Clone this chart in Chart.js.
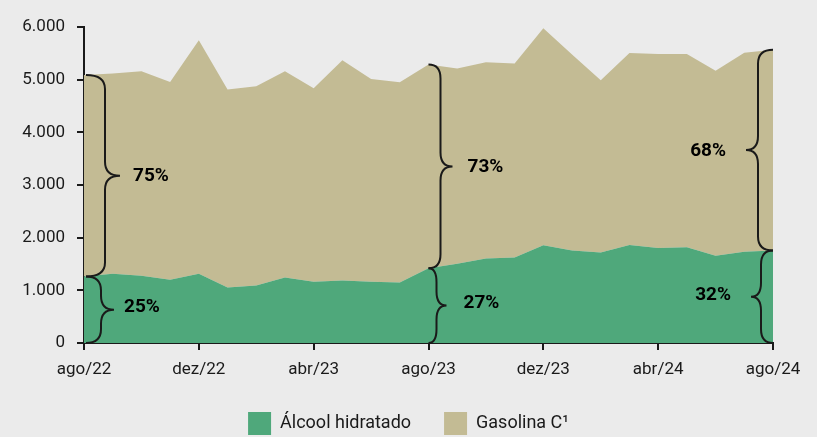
<!DOCTYPE html>
<html>
<head>
<meta charset="utf-8">
<script src="https://cdn.jsdelivr.net/npm/chart.js@4.4.1/dist/chart.umd.min.js"></script>
<style>
  html, body { margin: 0; padding: 0; background: #ebebeb; }
  #wrap { width: 817px; height: 437px; }
</style>
</head>
<body>
<div id="wrap"><canvas id="chart" width="817" height="437"></canvas></div>
<script>
const months = ["ago/22", "set/22", "out/22", "nov/22", "dez/22", "jan/23", "fev/23", "mar/23", "abr/23",
  "mai/23", "jun/23", "jul/23", "ago/23", "set/23", "out/23", "nov/23", "dez/23", "jan/24", "fev/24",
  "mar/24", "abr/24", "mai/24", "jun/24", "jul/24", "ago/24"];

// thousand m3
const alcool = [1263, 1313, 1275, 1200, 1313, 1054, 1092, 1244, 1162, 1187, 1162, 1149, 1421,
  1503, 1604, 1623, 1857, 1755, 1718, 1863, 1806, 1819, 1655, 1731, 1755];
const gasolina = [3827, 3802, 3885, 3757, 4434, 3758, 3783, 3916, 3675, 4181, 3853, 3802, 3865,
  3707, 3726, 3682, 4118, 3725, 3272, 3642, 3681, 3668, 3515, 3781, 3815];

// shares marked with braces
const braceMonths = [0, 12, 24];
const alcoolShare = ["25%", "27%", "32%"];
const gasolinaShare = ["75%", "73%", "68%"];

const ink = "#1a1a1a";
const fmt = v => String(v).replace(/\B(?=(\d{3})+(?!\d))/g, ".");

// brace: ends at x, spine at x+dir*d1, point at x+dir*d2
function drawBrace(ctx, x, y1, y2, dir, d1, d2) {
  const ym = (y1 + y2) / 2;
  const r = Math.min(14, (y2 - y1) / 4);
  const sx = x + dir * d1, px = x + dir * d2;
  ctx.beginPath();
  ctx.moveTo(x, y1);
  ctx.quadraticCurveTo(sx, y1, sx, y1 + r);
  ctx.lineTo(sx, ym - r);
  ctx.quadraticCurveTo(sx, ym, px, ym);
  ctx.quadraticCurveTo(sx, ym, sx, ym + r);
  ctx.lineTo(sx, y2 - r);
  ctx.quadraticCurveTo(sx, y2, x, y2);
  ctx.stroke();
}

const bracePlugin = {
  id: "braces",
  afterDatasetsDraw(chart) {
    const { ctx, scales: { x, y } } = chart;
    const geo = [
      { dir: 1, top: [19, 34, 13], bot: [15, 28, 10], dx: 2 },
      { dir: 1, top: [12, 24, 15], bot: [8, 18, 17], dx: 0 },
      { dir: -1, top: [15, 27, 20], bot: [12, 22, 20], dx: 0 }
    ];
    ctx.save();
    ctx.strokeStyle = ink;
    ctx.lineWidth = 2;
    ctx.fillStyle = "#000";
    ctx.font = "bold 19px Roboto";
    ctx.textBaseline = "middle";
    braceMonths.forEach((i, k) => {
      const g = geo[k];
      const bx = x.getPixelForValue(i) + g.dx;
      const y0 = y.getPixelForValue(0);
      const ya = y.getPixelForValue(alcool[i]);
      const yt = y.getPixelForValue(alcool[i] + gasolina[i]);
      drawBrace(ctx, bx, yt, ya, g.dir, g.top[0], g.top[1]);
      drawBrace(ctx, bx, ya, y0, g.dir, g.bot[0], g.bot[1]);
      ctx.textAlign = g.dir > 0 ? "left" : "right";
      ctx.fillText(gasolinaShare[k], bx + g.dir * (g.top[1] + g.top[2]), (yt + ya) / 2 + 1);
      ctx.fillText(alcoolShare[k], bx + g.dir * (g.bot[1] + g.bot[2]), (ya + y0) / 2 - 2);
    });
    ctx.restore();
  }
};

new Chart(document.getElementById("chart"), {
  type: "line",
  data: {
    labels: months,
    datasets: [
      {
        label: "Álcool hidratado",
        data: alcool,
        backgroundColor: "#4fa87b",
        borderColor: "#4fa87b",
        borderWidth: 0,
        pointRadius: 0,
        fill: "origin"
      },
      {
        label: "Gasolina C¹",
        data: gasolina,
        backgroundColor: "#c3bb94",
        borderColor: "#c3bb94",
        borderWidth: 0,
        pointRadius: 0,
        fill: "-1"
      }
    ]
  },
  options: {
    responsive: false,
    animation: false,
    layout: { padding: { top: 27, left: 0, right: 0, bottom: -8 } },
    plugins: {
      tooltip: { enabled: false },
      legend: {
        position: "bottom",
        labels: {
          boxWidth: 23,
          boxHeight: 23,
          padding: 33,
          color: ink,
          font: { family: "Roboto", size: 18 }
        }
      }
    },
    scales: {
      x: {
        offset: false,
        afterBuildTicks: s => { s.ticks = s.ticks.filter(t => t.value % 4 === 0); },
        afterFit: s => { s.height = 36; },
        ticks: { autoSkip: false, maxRotation: 0, padding: 10, color: ink, font: { family: "Roboto", size: 17 } },
        grid: { drawOnChartArea: false, tickLength: 7, color: ink, lineWidth: 2 },
        border: { color: ink, width: 2 }
      },
      y: {
        stacked: true,
        min: 0,
        max: 6000,
        afterFit: s => { s.width = 84; },
        ticks: { stepSize: 1000, padding: 12, color: ink, font: { family: "Roboto", size: 17 }, callback: v => fmt(v) },
        grid: { drawOnChartArea: false, tickLength: 7, color: ink, lineWidth: 2 },
        border: { color: ink, width: 2 }
      },
      yRight: {
        position: "right",
        afterFit: s => { s.width = 44; },
        ticks: { display: false },
        grid: { display: false },
        border: { display: false }
      }
    }
  },
  plugins: [bracePlugin]
});
</script>
</body>
</html>
